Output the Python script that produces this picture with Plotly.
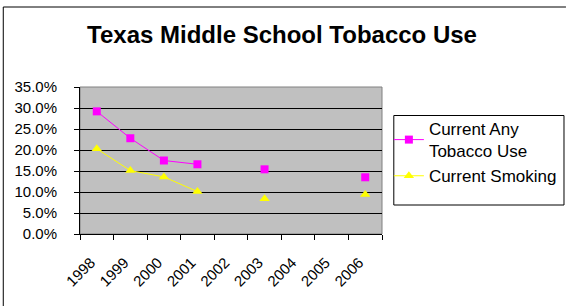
import plotly.graph_objects as go

years = ["1998", "1999", "2000", "2001", "2002", "2003", "2004", "2005", "2006"]
any_tobacco = [0.292, 0.228, 0.175, 0.166, None, 0.154, None, None, 0.135]
smoking = [0.203, 0.151, 0.136, 0.101, None, 0.084, None, None, 0.094]
series_names = ["Current Any<br>Tobacco Use", "Current Smoking"]

W, H = 574, 306
L, R, T, B = 80, 187, 87, 72
pw, ph = W - L - R, H - T - B

def px_x(p):
    return (p - L) / pw

def px_y(p):
    return (H - B - p) / ph

FONT = "Arial, Liberation Sans, sans-serif"

fig = go.Figure()
fig.add_trace(go.Scatter(
    x=years, y=any_tobacco, name=series_names[0], mode="lines+markers",
    line=dict(color="#FF00FF", width=1),
    marker=dict(symbol="square", size=8, color="#FF00FF"),
    connectgaps=False,
))
fig.add_trace(go.Scatter(
    x=years, y=smoking, name=series_names[1], mode="lines+markers",
    line=dict(color="#FFFF00", width=1),
    marker=dict(symbol="triangle-up", size=9, color="#FFFF00"),
    connectgaps=False,
))

fig.update_layout(
    width=W, height=H,
    margin=dict(l=L, r=R, t=T, b=B, pad=0),
    paper_bgcolor="white", plot_bgcolor="#C0C0C0",
    font=dict(family=FONT, color="black", size=16),
    title=dict(text="<b>Texas Middle School Tobacco Use</b>",
               font=dict(family=FONT, size=24, color="black"),
               x=282 / W, xanchor="center", xref="container",
               y=1 - 35 / H, yanchor="middle", yref="container"),
    showlegend=True,
    legend=dict(x=px_x(394), y=px_y(111), xanchor="left", yanchor="top",
                bgcolor="rgba(0,0,0,0)", borderwidth=0,
                font=dict(family=FONT, size=17, color="black"),
                tracegroupgap=0, itemwidth=30),
    xaxis=dict(type="category", categoryorder="array", categoryarray=years,
               range=[-0.5, 8.5], tickson="boundaries",
               ticks="outside", ticklen=5, tickcolor="black", tickwidth=1,
               showline=True, linecolor="black", linewidth=1,
               showgrid=False, zeroline=False, tickangle=-45,
               ticklabelstandoff=13, ticklabelshift=-6,
               tickfont=dict(family=FONT, size=15, color="black"),
               automargin=False, fixedrange=True),
    yaxis=dict(range=[0, 0.35], dtick=0.05, tick0=0, tickformat=".1%",
               ticks="outside", ticklen=5, tickcolor="black", tickwidth=1,
               showline=True, linecolor="black", linewidth=1,
               showgrid=True, gridcolor="black", gridwidth=1, zeroline=False,
               ticklabelstandoff=14,
               tickfont=dict(family=FONT, size=15, color="black"),
               automargin=False, fixedrange=True),
    shapes=[
        dict(type="rect", xref="paper", yref="paper", x0=0, x1=1, y0=0, y1=1,
             line=dict(color="#808080", width=1), layer="below"),
        dict(type="rect", xref="paper", yref="paper",
             x0=px_x(399), x1=px_x(572), y0=px_y(205), y1=px_y(115.5),
             line=dict(color="black", width=1), fillcolor="rgba(0,0,0,0)"),
        dict(type="line", xref="paper", yref="paper",
             x0=px_x(2), x1=px_x(2), y0=px_y(306), y1=px_y(7),
             line=dict(color="black", width=1)),
        dict(type="line", xref="paper", yref="paper",
             x0=px_x(2), x1=px_x(574), y0=px_y(7), y1=px_y(7),
             line=dict(color="black", width=1)),
    ],
)

fig.write_html(
    "out.html",
    config={"displayModeBar": False, "staticPlot": True},
    post_script="document.body.style.margin='0px';document.body.style.overflow='hidden';",
)
